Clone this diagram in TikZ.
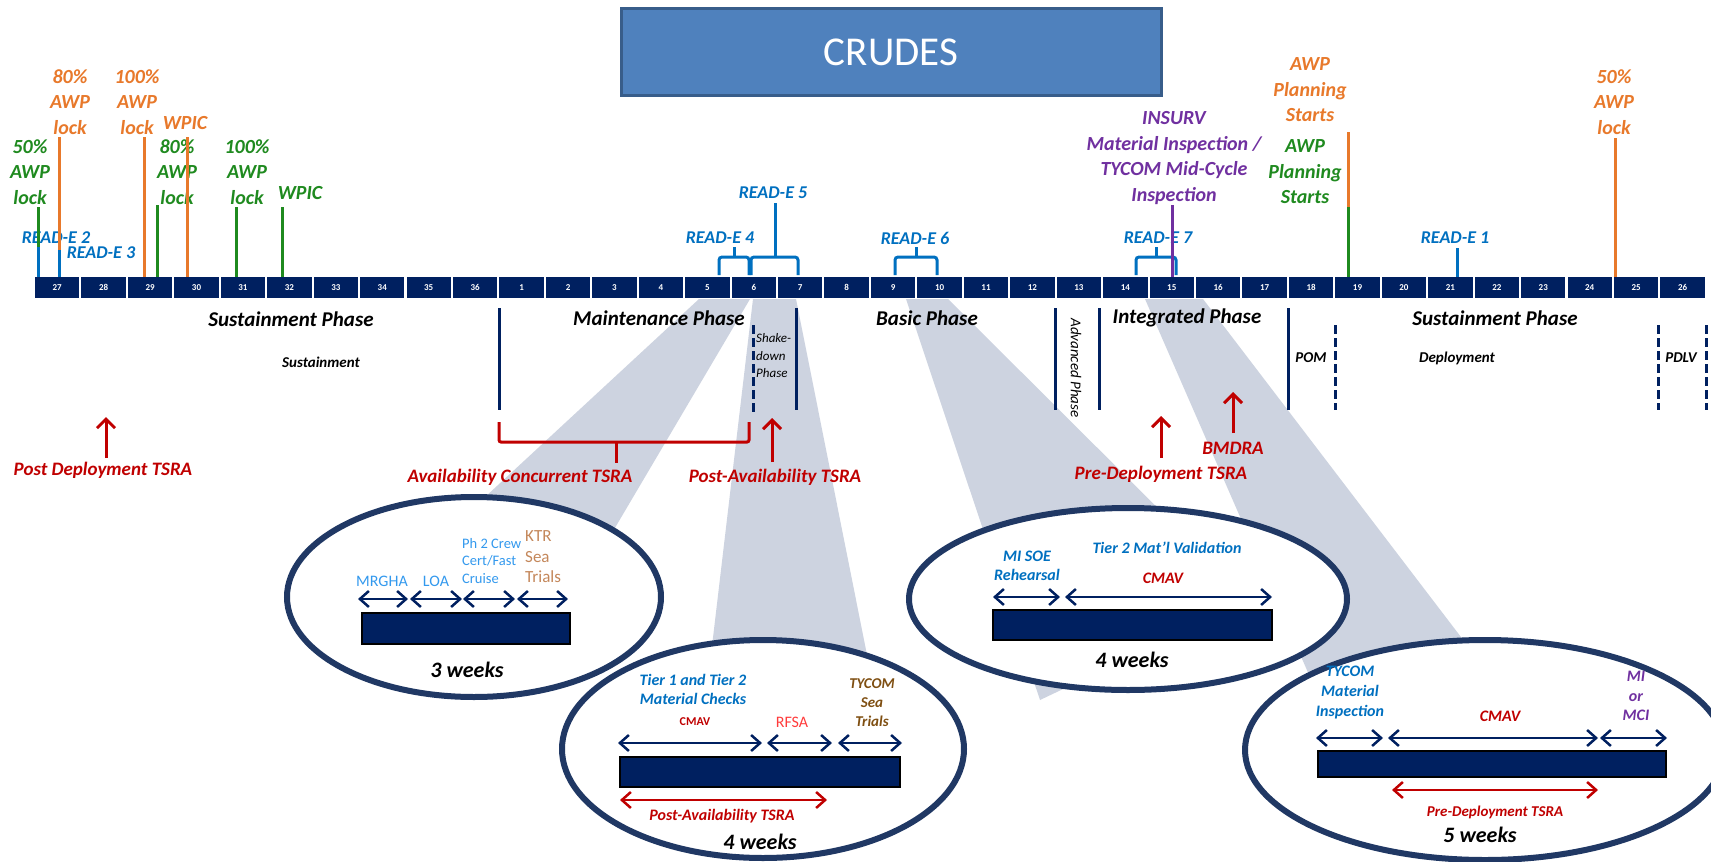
\documentclass[tikz,border=0pt]{standalone}
\usepackage{fontspec}
\setmainfont{Carlito}
\usetikzlibrary{arrows.meta,shapes.geometric}

\definecolor{navy}{HTML}{002060}
\definecolor{ellnavy}{HTML}{203864}
\definecolor{awpgreen}{HTML}{1F8A1F}
\definecolor{awporange}{HTML}{E8792B}
\definecolor{readblue}{HTML}{0070C0}
\definecolor{insurv}{HTML}{7030A0}
\definecolor{tsred}{HTML}{C00000}
\definecolor{liteblue}{HTML}{3399EE}
\definecolor{ktrtan}{HTML}{C4875A}
\definecolor{seabrown}{HTML}{7F4F12}
\definecolor{rfsared}{HTML}{FF3B3B}
\definecolor{wedgegray}{HTML}{CDD3E0}
\definecolor{ttlfill}{HTML}{4F81BD}
\definecolor{ttldraw}{HTML}{385D8A}

\newcommand\fsz[2]{\fontsize{#1}{#2}\selectfont}

\begin{document}
\begin{tikzpicture}[x=1pt,y=-1pt,
    mk/.style={line width=3pt},
    top/.style={font=\bfseries\itshape\fsz{20}{25.5}, align=center, inner sep=0pt},
    rde/.style={font=\bfseries\itshape\fsz{18}{21}, text=readblue, inner sep=0pt},
    phase/.style={font=\bfseries\itshape\fsz{21}{24}, inner sep=0pt},
    sub/.style={font=\bfseries\itshape\fsz{15}{18}, inner sep=0pt},
    thin/.style={font=\itshape\fsz{15}{17.5}, inner sep=0pt, align=left},
    tsra/.style={font=\bfseries\itshape\fsz{19}{22}, text=tsred, inner sep=0pt},
    pline/.style={navy, line width=3pt},
    pdash/.style={pline, dash pattern=on 9pt off 4pt},
    up/.style={-{Straight Barb[length=9pt,width=18pt]}, tsred, line width=3pt},
    brk/.style={readblue, line width=3pt, rounded corners=3pt},
    cell/.style={fill=navy, minimum width=44.4pt, minimum height=21pt, inner sep=0pt,
        text=white, font=\bfseries\fsz{9}{10}},
    wedge/.style={fill=wedgegray},
    ell/.style={ellipse, draw=ellnavy, fill=white, line width=6pt, inner sep=0pt},
    wbar/.style={fill=navy, draw=black, line width=2pt},
    dbl/.style={{Straight Barb[length=9pt,width=16pt]}-{Straight Barb[length=9pt,width=16pt]},
        navy, line width=2.5pt},
    rdbl/.style={dbl, tsred},
    inl/.style={font=\bfseries\itshape\fsz{16}{19}, align=center, inner sep=0pt},
    wks/.style={font=\bfseries\itshape\fsz{22}{26}, inner sep=0pt}]

    \useasboundingbox (0,0) rectangle (1711,862);
    \clip (0,0) rectangle (1711,862);
    \fill[white] (0,0) rectangle (1711,862);

    \fill[wedge] (699,299) -- (750,299) -- (596,560) -- (417,560) -- cycle;
    \fill[wedge] (753,299) -- (796,299) -- (872,680) -- (708,680) -- cycle;
    \fill[wedge] (906,299) -- (948,299) -- (1250,600) -- (1040,700) -- cycle;
    \fill[wedge] (1145,299) -- (1203,299) -- (1509,700) -- (1320,700) -- cycle;

    \node[fill=ttlfill, draw=ttldraw, line width=3pt, minimum width=540pt, minimum height=87pt,
        text=white, font=\fsz{41}{48}] (ttl) at (891,52) {CRUDES};

    \foreach \i in {0,...,35}{
        \pgfmathtruncatemacro\wk{\i<10 ? \i+27 : \i-9}
        \node[cell] (c\i) at ({57.2+46.44*\i},287.5) {\wk};
    }

    \node[top, awpgreen] (g50) at (30,172) {50\%\\AWP\\lock};
    \node[top, awporange] (o80) at (70,102) {80\%\\AWP\\lock};
    \node[rde] (r2) at (56,238) {READ-E 2};
    \node[rde] (r3) at (101,253) {READ-E 3};
    \node[top, awporange] (o100) at (137,102) {100\%\\AWP\\lock};
    \node[top, awpgreen] (g80) at (177,172) {80\%\\AWP\\lock};
    \node[top, awporange] (owp) at (185,123) {WPIC};
    \node[top, awpgreen] (g100) at (247,172) {100\%\\AWP\\lock};
    \node[top, awpgreen] (gwp) at (300,193) {WPIC};
    \draw[mk, awpgreen] (38,207) -- (38,247);
    \draw[mk, readblue] (38,247) -- (38,277);
    \draw[mk, awporange] (59,137) -- (59,250);
    \draw[mk, readblue] (59,250) -- (59,277);
    \draw[mk, awporange] (144,137) -- (144,277);
    \draw[mk, awpgreen] (157,205) -- (157,277);
    \draw[mk, awporange] (187,137) -- (187,277);
    \draw[mk, awpgreen] (236,207) -- (236,277);
    \draw[mk, awpgreen] (282,207) -- (282,277);

    \node[rde] (r4) at (720,238) {READ-E 4};
    \node[rde] (r5) at (773,193) {READ-E 5};
    \node[rde] (r6) at (915,238) {READ-E 6};
    \node[rde] (r7) at (1158,238) {READ-E 7};
    \draw[brk] (719,275) -- (719,257) -- (749,257) -- (749,275);
    \draw[brk] (734,257) -- (734,247);
    \draw[brk] (751,275) -- (751,257) -- (798,257) -- (798,275);
    \draw[brk] (775,257) -- (775,203);
    \draw[brk] (895,275) -- (895,257) -- (937,257) -- (937,275);
    \draw[brk] (916,257) -- (916,247);
    \draw[brk] (1136,275) -- (1136,257) -- (1176,257) -- (1176,275);
    \draw[brk] (1156,257) -- (1156,247);

    \node[top, insurv] (ins) at (1174,158) {INSURV\\Material Inspection /\\TYCOM Mid-Cycle\\Inspection};
    \draw[mk, insurv] (1172,205) -- (1172,277);
    \node[top, awporange] (oplan) at (1310,90) {AWP\\Planning\\Starts};
    \node[top, awpgreen] (gplan) at (1305,172) {AWP\\Planning\\Starts};
    \draw[mk, awporange] (1348,132) -- (1348,207);
    \draw[mk, awpgreen] (1348,207) -- (1348,277);
    \node[rde] (r1) at (1455,238) {READ-E 1};
    \draw[mk, readblue] (1457,248) -- (1457,277);
    \node[top, awporange] (o50) at (1614,102) {50\%\\AWP\\lock};
    \draw[mk, awporange] (1615,138) -- (1615,277);

    \node[phase] (sus1) at (291,319) {Sustainment Phase};
    \node[sub] (sus) at (321,362) {Sustainment};
    \node[phase] (mnt) at (659,318) {Maintenance Phase};
    \node[thin, font=\itshape\fsz{13}{17.5}, anchor=west] (shk) at (756,356) {Shake-\\down\\Phase};
    \node[phase] (bsc) at (927,318) {Basic Phase};
    \node[thin, rotate=-90] (adv) at (1076,368) {Advanced Phase};
    \node[phase] (itg) at (1187,318) {Integrated Phase};
    \node[sub] (pom) at (1311,358) {POM};
    \node[phase] (sus2) at (1495,318) {Sustainment Phase};
    \node[sub] (dpl) at (1457,358) {Deployment};
    \node[sub] (pdlv) at (1681,358) {PDLV};

    \draw[pline] (499,308) -- (499,410);
    \draw[pdash] (753,325) -- (753,412);
    \draw[pline] (796,308) -- (796,410);
    \draw[pline] (1055,308) -- (1055,410);
    \draw[pline] (1099,308) -- (1099,410);
    \draw[pline] (1288,308) -- (1288,410);
    \draw[pdash] (1335,325) -- (1335,410);
    \draw[pdash] (1658,325) -- (1658,410);
    \draw[pdash] (1706,325) -- (1706,410);

    \node[tsra] (pdt) at (103,470) {Post Deployment TSRA};
    \draw[up] (106,458) -- (106,417);
    \node[tsra] (act) at (520,477) {Availability Concurrent TSRA};
    \draw[tsred, line width=3pt, rounded corners=2pt] (499,422) -- (499,442) -- (749,442) -- (749,422);
    \draw[tsred, line width=3pt] (616,442) -- (616,463);
    \node[tsra] (pat) at (775,477) {Post-Availability TSRA};
    \draw[up] (772,462) -- (772,418);
    \node[tsra] (pre) at (1161,474) {Pre-Deployment TSRA};
    \draw[up] (1161,458) -- (1161,416);
    \node[tsra] (bmd) at (1233,448) {BMDRA};
    \draw[up] (1233,433) -- (1233,392);

    \node[ell, minimum width=374pt, minimum height=200pt] (e1) at (474,597) {};
    \node[wbar, minimum width=208pt, minimum height=31pt] (b1) at (466,628.5) {};
    \draw[dbl] (358,599) -- (408,599);
    \draw[dbl] (410,599) -- (462,599);
    \draw[dbl] (463,599) -- (515,599);
    \draw[dbl] (517,599) -- (568,599);
    \node[font=\fsz{16}{19}, text=liteblue, inner sep=0pt] (mrg) at (382,581) {MRGHA};
    \node[font=\fsz{16}{19}, text=liteblue, inner sep=0pt] (loa) at (436,581) {LOA};
    \node[font=\fsz{14.5}{17.5}, text=liteblue, inner sep=0pt, align=left, anchor=west] (ph2) at (462,561) {Ph 2 Crew\\Cert/Fast\\Cruise};
    \node[font=\fsz{17}{20.5}, text=ktrtan, inner sep=0pt, align=left, anchor=west] (ktr) at (525,557) {KTR\\Sea\\Trials};
    \node[wks] (w3) at (467,670) {3 weeks};

    \node[ell, minimum width=402pt, minimum height=218pt] (e2) at (763,749) {};
    \node[wbar, minimum width=280pt, minimum height=30pt] (b2) at (760,772) {};
    \draw[dbl] (618,743) -- (762,743);
    \draw[dbl] (767,743) -- (832,743);
    \draw[dbl] (838,743) -- (902,743);
    \node[inl, text=readblue] (t12) at (693,689) {Tier 1 and Tier 2\\Material Checks};
    \node[font=\bfseries\fsz{12}{14}, text=tsred, inner sep=0pt] (cm2) at (695,722) {CMAV};
    \node[font=\fsz{16}{19}, text=rfsared, inner sep=0pt] (rfsa) at (792,722) {RFSA};
    \node[inl, font=\bfseries\itshape\fsz{15}{19}, text=seabrown] (tst) at (872,703) {TYCOM\\Sea\\Trials};
    \draw[rdbl] (620,800) -- (827,800);
    \node[inl, text=tsred] (pat2) at (722,816) {Post-Availability TSRA};
    \node[wks] (w4a) at (760,842) {4 weeks};

    \node[ell, minimum width=438pt, minimum height=182pt] (e3) at (1128,599) {};
    \node[wbar, minimum width=279pt, minimum height=30pt] (b3) at (1132.5,625) {};
    \draw[dbl] (993,597) -- (1060,597);
    \draw[dbl] (1065,597) -- (1272,597);
    \node[inl, text=readblue] (soe) at (1027,565.5) {MI SOE\\Rehearsal};
    \node[inl, text=readblue] (t2v) at (1167,548) {Tier 2 Mat’l Validation};
    \node[inl, text=tsred] (cm3) at (1163,578) {CMAV};
    \node[wks] (w4b) at (1132,660) {4 weeks};

    \node[ell, minimum width=480pt, minimum height=220pt] (e4) at (1485,750) {};
    \node[wbar, minimum width=348pt, minimum height=26pt] (b4) at (1492,764) {};
    \draw[dbl] (1316,738) -- (1383,738);
    \draw[dbl] (1388,738) -- (1598,738);
    \draw[dbl] (1600,738) -- (1667,738);
    \node[inl, font=\bfseries\itshape\fsz{16}{20}, text=readblue] (tmi) at (1350,693) {TYCOM\\Material\\Inspection};
    \node[inl, text=tsred] (cm4) at (1500,716) {CMAV};
    \node[inl, font=\bfseries\itshape\fsz{16}{19.5}, text=insurv] (mci) at (1636,696) {MI\\or\\MCI};
    \draw[rdbl] (1392,790) -- (1598,790);
    \node[inl, font=\bfseries\itshape\fsz{15}{18}, text=tsred] (pdt2) at (1495,812) {Pre-Deployment TSRA};
    \node[wks] (w5) at (1480,835) {5 weeks};
\end{tikzpicture}
\end{document}
